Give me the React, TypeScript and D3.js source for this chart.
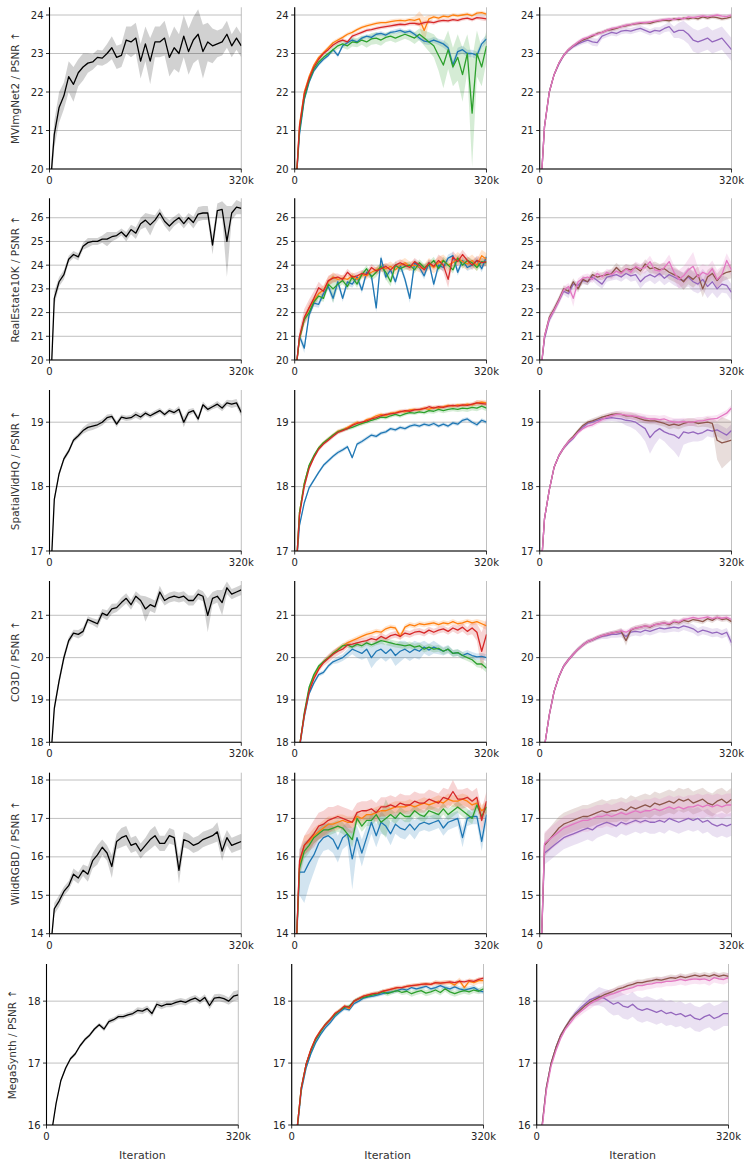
import React from "react";
import * as d3 from "d3";

// iteration (thousands)
const ITER = [3,8,16,24,32,40,48,56,64,72,80,88,96,104,112,120,128,136,144,152,160,168,176,184,192,200,208,216,224,232,240,248,256,264,272,280,288,296,304,312,320];
const X_TICKS = [0, 320];
const X_TICK_LABELS = ["0", "320k"];

// ---------- MVImgNet2 ----------
const mvK = [19.9,20.9,21.6,21.9,22.4,22.2,22.5,22.65,22.75,22.78,22.9,22.88,23.0,23.15,22.9,22.95,23.35,23.3,23.4,22.8,23.25,22.8,23.3,23.3,23.4,22.9,23.15,23.0,23.45,23.05,23.35,23.5,23.05,23.3,23.2,23.25,23.3,23.5,23.2,23.4,23.2];
const mvKsd = [0.3,0.35,0.4,0.35,0.4,0.45,0.35,0.35,0.25,0.2,0.2,0.2,0.25,0.3,0.3,0.3,0.35,0.4,0.4,0.45,0.45,0.6,0.4,0.4,0.45,0.5,0.55,0.5,0.55,0.6,0.6,0.65,0.7,0.5,0.45,0.35,0.35,0.35,0.3,0.3,0.3];
const mvBlue = [19.8,20.9,21.8,22.25,22.55,22.72,22.85,22.95,23.1,22.95,23.2,23.28,23.35,23.3,23.4,23.45,23.42,23.5,23.52,23.48,23.55,23.57,23.6,23.55,23.58,23.5,23.4,23.32,23.3,23.35,23.3,23.25,23.15,22.7,23.05,23.1,23.0,23.0,22.95,23.25,23.38];
const mvBlueSd = [0.1,0.08,0.06,0.05,0.05,0.05,0.05,0.05,0.05,0.06,0.05,0.05,0.05,0.06,0.05,0.05,0.06,0.05,0.06,0.05,0.05,0.06,0.06,0.05,0.06,0.06,0.07,0.08,0.08,0.08,0.08,0.1,0.1,0.12,0.1,0.1,0.1,0.1,0.1,0.1,0.1];
const mvOrange = [19.8,21.15,22.0,22.4,22.7,22.9,23.02,23.15,23.28,23.35,23.42,23.5,23.55,23.62,23.68,23.72,23.75,23.78,23.8,23.8,23.83,23.85,23.86,23.85,23.88,23.86,23.9,23.6,23.9,23.95,23.92,23.97,23.95,24.0,23.98,24.0,24.02,23.98,24.05,24.06,24.02];
const mvOrangeSd = [0.1,0.08,0.06,0.05,0.05,0.05,0.05,0.05,0.05,0.05,0.05,0.05,0.05,0.05,0.05,0.05,0.05,0.05,0.05,0.05,0.05,0.05,0.05,0.05,0.05,0.1,0.2,0.35,0.1,0.05,0.05,0.05,0.05,0.05,0.05,0.05,0.05,0.05,0.05,0.05,0.05];
const mvGreen = [19.8,21.0,21.85,22.3,22.6,22.78,22.9,23.0,23.1,23.2,23.25,23.2,23.3,23.28,23.35,23.3,23.38,23.4,23.35,23.42,23.45,23.4,23.45,23.5,23.45,23.4,23.5,23.4,23.3,23.2,22.95,22.7,23.1,22.65,22.9,22.45,23.0,21.45,23.0,22.65,23.2];
const mvGreenSd = [0.1,0.08,0.06,0.05,0.05,0.06,0.06,0.06,0.08,0.08,0.1,0.1,0.12,0.12,0.12,0.15,0.15,0.15,0.15,0.12,0.12,0.12,0.12,0.12,0.12,0.15,0.15,0.2,0.25,0.3,0.4,0.6,0.5,0.5,0.6,0.7,0.5,1.4,0.6,0.5,0.4];
const mvRed = [19.8,21.1,21.95,22.35,22.65,22.85,23.0,23.1,23.22,23.3,23.35,23.3,23.45,23.5,23.55,23.6,23.62,23.65,23.68,23.7,23.72,23.74,23.76,23.75,23.78,23.78,23.76,23.8,23.82,23.8,23.84,23.86,23.85,23.88,23.86,23.9,23.92,23.88,23.93,23.92,23.9];
const mvRedSd = [0.1,0.08,0.06,0.05,0.05,0.05,0.05,0.05,0.05,0.05,0.05,0.05,0.05,0.05,0.05,0.05,0.05,0.05,0.05,0.05,0.05,0.05,0.05,0.05,0.05,0.05,0.05,0.05,0.05,0.05,0.05,0.05,0.05,0.05,0.05,0.05,0.05,0.05,0.05,0.06,0.06];
const mvPurple = [19.8,21.1,22.0,22.45,22.72,22.95,23.08,23.18,23.25,23.3,23.35,23.3,23.28,23.45,23.5,23.55,23.52,23.58,23.6,23.58,23.62,23.65,23.6,23.55,23.6,23.58,23.65,23.7,23.55,23.6,23.6,23.5,23.35,23.3,23.35,23.4,23.3,23.35,23.4,23.25,23.1];
const mvPurpleSd = [0.08,0.06,0.05,0.05,0.05,0.05,0.05,0.05,0.06,0.06,0.08,0.1,0.1,0.08,0.08,0.08,0.08,0.08,0.08,0.08,0.08,0.08,0.08,0.08,0.08,0.1,0.1,0.12,0.15,0.2,0.25,0.25,0.3,0.3,0.3,0.3,0.3,0.3,0.3,0.3,0.3];
const mvBrown = [19.8,21.1,22.0,22.45,22.75,22.95,23.1,23.2,23.28,23.35,23.4,23.45,23.52,23.55,23.6,23.62,23.65,23.7,23.72,23.75,23.77,23.78,23.8,23.78,23.82,23.85,23.87,23.85,23.9,23.88,23.92,23.9,23.93,23.9,23.95,23.92,23.95,23.93,23.9,23.92,23.95];
const mvBrownSd = [0.08,0.06,0.05,0.05,0.05,0.05,0.05,0.05,0.05,0.05,0.05,0.05,0.05,0.05,0.05,0.05,0.05,0.05,0.05,0.05,0.05,0.05,0.05,0.05,0.05,0.05,0.05,0.05,0.05,0.05,0.05,0.05,0.05,0.05,0.05,0.05,0.05,0.05,0.05,0.05,0.05];
const mvPink = [19.8,21.1,22.0,22.45,22.75,22.95,23.1,23.2,23.3,23.38,23.42,23.48,23.5,23.55,23.6,23.65,23.67,23.7,23.74,23.75,23.78,23.8,23.8,23.82,23.84,23.86,23.88,23.9,23.88,23.92,23.9,23.95,23.93,23.96,23.98,23.96,23.98,24.0,23.97,23.96,24.0];
const mvPinkSd = [0.08,0.06,0.05,0.05,0.05,0.05,0.05,0.05,0.05,0.05,0.05,0.05,0.05,0.05,0.05,0.05,0.05,0.05,0.05,0.05,0.05,0.05,0.05,0.05,0.05,0.05,0.05,0.05,0.05,0.05,0.05,0.05,0.05,0.05,0.05,0.05,0.05,0.05,0.05,0.05,0.05];

// ---------- RealEstate10K ----------
const reK = [19.5,22.6,23.3,23.6,24.25,24.45,24.35,24.8,24.95,25.0,25.0,25.1,25.1,25.2,25.25,25.4,25.2,25.5,25.35,25.75,25.9,25.7,25.9,26.2,25.85,25.65,25.85,26.0,25.75,26.0,25.8,26.15,26.2,26.2,24.85,26.3,26.35,25.0,26.2,26.45,26.4];
const reKsd = [0.3,0.3,0.2,0.2,0.15,0.15,0.15,0.15,0.2,0.15,0.15,0.15,0.3,0.2,0.15,0.15,0.2,0.2,0.25,0.25,0.3,0.45,0.2,0.2,0.2,0.25,0.2,0.2,0.2,0.2,0.25,0.3,0.3,0.3,0.4,0.3,0.35,1.5,0.3,0.3,0.25];
const reBlue = [19.8,21.0,20.5,21.9,22.4,22.35,22.8,23.1,22.6,23.3,22.6,23.3,23.2,23.5,22.95,23.7,23.55,22.2,24.3,23.5,23.8,23.3,24.0,23.4,22.6,24.1,23.9,23.55,24.1,23.2,24.0,23.9,24.3,24.4,23.7,24.2,23.9,24.0,24.2,23.85,24.35];
const reBlueSd = [0.1,0.15,0.2,0.15,0.15,0.15,0.15,0.15,0.2,0.15,0.15,0.15,0.15,0.15,0.15,0.15,0.15,0.2,0.15,0.15,0.15,0.15,0.15,0.15,0.2,0.15,0.15,0.15,0.15,0.15,0.15,0.15,0.15,0.15,0.15,0.15,0.15,0.15,0.15,0.15,0.15];
const reOrange = [19.8,20.9,21.7,22.2,22.5,22.8,22.95,23.3,23.5,23.4,23.45,23.4,23.55,23.4,23.6,23.55,23.7,23.8,23.9,23.85,23.95,23.8,24.0,24.1,23.95,24.0,23.9,23.85,24.05,23.9,24.1,24.2,24.0,24.1,24.3,24.15,24.05,24.2,24.0,24.4,24.25];
const reOrangeSd = [0.1,0.2,0.2,0.2,0.2,0.2,0.2,0.2,0.2,0.15,0.15,0.15,0.15,0.15,0.15,0.15,0.15,0.15,0.15,0.2,0.2,0.2,0.2,0.2,0.2,0.2,0.2,0.2,0.25,0.25,0.25,0.25,0.25,0.25,0.25,0.25,0.25,0.25,0.25,0.25,0.25];
const reGreen = [19.8,20.9,21.7,22.0,22.45,22.7,22.6,23.2,23.0,23.2,23.35,23.1,23.5,23.2,23.6,23.85,23.5,23.7,23.95,23.7,23.3,24.0,23.85,23.95,24.0,23.8,24.1,23.9,24.0,24.2,23.85,24.2,24.0,23.8,24.3,24.0,24.2,24.1,23.9,24.15,24.1];
const reGreenSd = [0.1,0.15,0.15,0.15,0.15,0.15,0.15,0.15,0.6,0.15,0.15,0.15,0.15,0.15,0.15,0.15,0.15,0.2,0.15,0.3,0.2,0.15,0.15,0.15,0.15,0.15,0.15,0.15,0.15,0.15,0.15,0.15,0.15,0.15,0.15,0.15,0.15,0.15,0.15,0.15,0.15];
const reRed = [19.8,21.0,21.8,22.2,22.6,23.05,22.9,23.35,23.45,23.5,23.4,23.7,23.5,23.55,23.65,23.6,23.9,23.75,23.85,23.95,23.8,24.0,24.1,24.0,23.9,24.15,24.0,23.8,24.1,23.95,24.2,24.0,23.4,24.35,24.15,24.45,24.2,24.0,24.2,24.1,24.15];
const reRedSd = [0.1,0.3,0.35,0.35,0.3,0.25,0.2,0.2,0.2,0.15,0.15,0.15,0.15,0.15,0.15,0.15,0.15,0.15,0.15,0.15,0.15,0.15,0.15,0.15,0.15,0.15,0.15,0.15,0.15,0.15,0.25,0.3,0.35,0.25,0.2,0.2,0.2,0.2,0.2,0.2,0.2];
const rePurple = [19.8,20.9,21.7,22.1,22.5,22.9,22.8,23.2,23.15,23.35,23.3,23.5,23.35,23.2,23.5,23.55,23.6,23.5,23.65,23.55,23.6,23.3,23.5,23.6,23.5,23.65,23.45,23.6,23.5,23.4,23.35,23.5,23.3,23.2,23.4,23.1,23.3,23.0,23.2,23.15,22.85];
const rePurpleSd = [0.1,0.15,0.15,0.15,0.15,0.15,0.2,0.15,0.15,0.15,0.15,0.15,0.2,0.2,0.2,0.2,0.2,0.2,0.2,0.25,0.25,0.3,0.25,0.25,0.3,0.3,0.3,0.3,0.35,0.35,0.35,0.4,0.4,0.4,0.45,0.5,0.45,0.4,0.35,0.35,0.35];
const reBrown = [19.8,21.0,21.8,22.15,22.55,23.0,22.9,23.3,23.0,23.4,23.3,23.6,23.5,23.55,23.6,23.65,23.9,23.7,23.85,23.8,23.9,23.75,24.05,23.85,23.9,23.8,23.85,23.7,23.6,23.5,23.3,23.55,23.4,23.6,23.0,23.5,23.65,23.35,23.6,23.7,23.75];
const reBrownSd = [0.1,0.15,0.15,0.15,0.15,0.15,0.15,0.15,0.15,0.15,0.15,0.15,0.15,0.15,0.15,0.2,0.2,0.2,0.2,0.2,0.2,0.2,0.2,0.2,0.25,0.25,0.25,0.3,0.3,0.3,0.35,0.35,0.35,0.35,0.35,0.3,0.3,0.3,0.3,0.3,0.3];
const rePink = [19.8,21.0,21.75,22.1,22.5,22.95,23.1,22.6,23.3,23.45,23.5,23.4,23.65,23.5,23.7,23.6,23.75,23.65,23.85,23.7,23.95,23.85,23.9,24.15,23.8,23.75,23.9,24.15,23.7,23.4,23.55,23.8,23.95,23.5,23.7,23.6,23.85,23.4,23.6,24.2,23.8];
const rePinkSd = [0.1,0.15,0.15,0.15,0.15,0.15,0.15,0.35,0.15,0.15,0.15,0.15,0.15,0.15,0.15,0.2,0.2,0.2,0.2,0.2,0.2,0.2,0.25,0.25,0.25,0.25,0.25,0.3,0.3,0.4,0.4,0.45,0.6,0.4,0.35,0.35,0.35,0.4,0.35,0.3,0.3];

// ---------- SpatialVidHQ ----------
const svK = [16.8,17.8,18.2,18.43,18.55,18.72,18.79,18.87,18.92,18.94,18.96,19.0,19.07,19.09,18.97,19.08,19.06,19.07,19.12,19.08,19.14,19.1,19.14,19.18,19.12,19.18,19.15,19.2,19.0,19.15,19.18,19.05,19.27,19.2,19.24,19.28,19.22,19.3,19.28,19.3,19.15];
const svKsd = [0.05,0.05,0.04,0.04,0.04,0.04,0.04,0.05,0.06,0.06,0.05,0.05,0.05,0.04,0.05,0.04,0.04,0.04,0.05,0.05,0.04,0.04,0.04,0.04,0.04,0.04,0.04,0.05,0.08,0.05,0.04,0.05,0.05,0.04,0.04,0.05,0.05,0.05,0.06,0.06,0.06];
const svBlue = [16.8,17.4,17.75,17.98,18.1,18.22,18.33,18.4,18.47,18.53,18.57,18.62,18.45,18.66,18.7,18.75,18.8,18.78,18.83,18.85,18.9,18.88,18.92,18.9,18.94,18.96,18.94,18.97,18.95,18.98,18.94,18.97,18.94,18.99,18.97,19.03,19.05,19.0,18.96,19.03,19.0];
const svBlueSd = [0.04,0.04,0.03,0.03,0.03,0.03,0.03,0.03,0.03,0.03,0.03,0.03,0.03,0.03,0.03,0.03,0.03,0.03,0.03,0.03,0.03,0.03,0.03,0.03,0.03,0.03,0.03,0.03,0.03,0.03,0.03,0.03,0.03,0.03,0.03,0.03,0.03,0.03,0.03,0.03,0.03];
const svOrange = [16.8,17.6,18.05,18.32,18.47,18.6,18.68,18.74,18.8,18.86,18.88,18.92,18.96,19.0,18.98,19.04,19.06,19.1,19.12,19.1,19.14,19.15,19.17,19.16,19.19,19.2,19.19,19.22,19.2,19.23,19.22,19.24,19.26,19.25,19.27,19.26,19.28,19.27,19.3,19.31,19.3];
const svOrangeSd = [0.04,0.04,0.03,0.03,0.03,0.03,0.03,0.03,0.03,0.03,0.03,0.03,0.03,0.03,0.03,0.03,0.03,0.03,0.03,0.03,0.03,0.03,0.03,0.03,0.03,0.03,0.03,0.03,0.03,0.03,0.03,0.03,0.03,0.03,0.03,0.03,0.03,0.03,0.04,0.04,0.04];
const svGreen = [16.8,17.6,18.05,18.33,18.48,18.6,18.68,18.74,18.8,18.85,18.88,18.9,18.92,18.95,18.98,19.0,19.03,19.05,19.08,19.07,19.1,19.12,19.1,19.13,19.15,19.14,19.16,19.15,19.18,19.17,19.2,19.18,19.2,19.21,19.2,19.22,19.21,19.23,19.22,19.25,19.22];
const svGreenSd = [0.04,0.04,0.03,0.03,0.03,0.03,0.03,0.03,0.03,0.03,0.03,0.03,0.03,0.03,0.03,0.03,0.03,0.03,0.03,0.03,0.03,0.03,0.03,0.03,0.03,0.03,0.03,0.03,0.04,0.04,0.04,0.04,0.04,0.04,0.04,0.05,0.05,0.05,0.05,0.05,0.05];
const svRed = [16.8,17.55,18.0,18.28,18.45,18.58,18.66,18.72,18.78,18.84,18.87,18.9,18.95,18.98,19.0,19.02,19.05,19.07,19.1,19.12,19.13,19.14,19.16,19.18,19.17,19.19,19.2,19.21,19.24,19.22,19.24,19.23,19.25,19.26,19.25,19.27,19.26,19.28,19.3,19.29,19.28];
const svRedSd = [0.04,0.04,0.03,0.03,0.03,0.03,0.03,0.03,0.03,0.03,0.03,0.03,0.03,0.03,0.03,0.03,0.03,0.03,0.03,0.03,0.03,0.03,0.03,0.03,0.03,0.03,0.03,0.03,0.03,0.03,0.03,0.03,0.03,0.03,0.03,0.03,0.03,0.03,0.04,0.04,0.04];
const svPurple = [16.8,17.5,17.95,18.3,18.48,18.6,18.68,18.75,18.85,18.92,18.98,19.0,19.03,19.05,19.06,19.07,19.06,19.05,19.03,19.02,19.0,18.95,18.9,18.76,18.85,18.9,18.85,18.82,18.8,18.75,18.85,18.83,18.85,18.82,18.84,18.88,18.86,18.88,18.84,18.8,18.87];
const svPurpleSd = [0.04,0.04,0.03,0.03,0.03,0.03,0.03,0.03,0.03,0.03,0.03,0.04,0.04,0.04,0.05,0.05,0.05,0.06,0.08,0.1,0.12,0.15,0.2,0.25,0.2,0.15,0.15,0.2,0.25,0.3,0.2,0.15,0.15,0.12,0.12,0.1,0.1,0.1,0.1,0.1,0.1];
const svBrown = [16.8,17.5,17.95,18.3,18.48,18.6,18.7,18.78,18.87,18.95,19.0,19.02,19.05,19.08,19.1,19.12,19.13,19.12,19.1,19.1,19.08,19.05,19.03,19.02,19.02,19.0,18.98,18.95,18.97,18.95,18.98,19.0,19.0,18.98,18.99,19.0,18.98,18.72,18.68,18.7,18.72];
const svBrownSd = [0.04,0.04,0.03,0.03,0.03,0.03,0.03,0.03,0.03,0.03,0.03,0.04,0.04,0.04,0.04,0.04,0.04,0.04,0.05,0.05,0.05,0.05,0.05,0.05,0.05,0.05,0.05,0.06,0.06,0.06,0.06,0.06,0.06,0.06,0.06,0.08,0.08,0.3,0.4,0.35,0.3];
const svPink = [16.8,17.5,17.95,18.3,18.48,18.6,18.7,18.76,18.84,18.9,18.94,18.96,19.0,19.04,19.08,19.1,19.12,19.12,19.11,19.1,19.09,19.08,19.06,19.05,19.05,19.04,19.05,19.02,19.0,19.0,19.01,19.0,19.0,19.02,19.02,19.04,19.05,19.06,19.1,19.14,19.22];
const svPinkSd = [0.04,0.04,0.03,0.03,0.03,0.03,0.03,0.03,0.03,0.03,0.03,0.04,0.04,0.04,0.05,0.05,0.05,0.06,0.06,0.06,0.06,0.06,0.06,0.06,0.06,0.06,0.06,0.06,0.06,0.06,0.06,0.06,0.06,0.06,0.06,0.06,0.05,0.05,0.05,0.05,0.05];

// ---------- CO3D ----------
const coK = [17.8,18.8,19.45,20.0,20.4,20.58,20.55,20.62,20.9,20.85,20.8,21.05,21.0,21.15,21.18,21.3,21.4,21.25,21.45,21.35,21.15,21.25,21.2,21.55,21.35,21.42,21.45,21.42,21.45,21.35,21.35,21.5,21.45,21.0,21.4,21.45,21.3,21.65,21.5,21.55,21.6];
const coKsd = [0.1,0.1,0.1,0.1,0.08,0.08,0.1,0.1,0.08,0.08,0.1,0.1,0.12,0.12,0.1,0.12,0.12,0.12,0.12,0.12,0.3,0.15,0.15,0.15,0.12,0.12,0.12,0.12,0.12,0.12,0.12,0.12,0.12,0.4,0.15,0.15,0.3,0.15,0.12,0.12,0.12];
const coBlue = [16.5,17.85,18.6,19.15,19.4,19.6,19.65,19.8,19.9,19.95,20.0,20.1,20.2,20.15,20.1,20.2,20.0,20.15,20.2,20.1,20.2,20.05,20.15,20.2,20.12,20.2,20.15,20.25,20.18,20.25,20.2,20.15,20.2,20.1,20.12,20.05,20.1,20.05,20.02,20.03,20.0];
const coBlueSd = [0.05,0.05,0.05,0.05,0.05,0.05,0.05,0.05,0.05,0.08,0.08,0.1,0.12,0.15,0.15,0.2,0.25,0.25,0.2,0.2,0.2,0.25,0.25,0.2,0.2,0.2,0.2,0.15,0.15,0.15,0.12,0.1,0.1,0.08,0.08,0.08,0.08,0.08,0.08,0.08,0.08];
const coOrange = [16.5,17.9,18.65,19.25,19.55,19.75,19.9,20.0,20.1,20.2,20.28,20.35,20.4,20.45,20.5,20.55,20.58,20.62,20.6,20.68,20.72,20.7,20.5,20.72,20.78,20.75,20.8,20.78,20.8,20.82,20.78,20.82,20.8,20.85,20.8,20.82,20.86,20.82,20.85,20.8,20.75];
const coOrangeSd = [0.05,0.05,0.05,0.05,0.05,0.05,0.05,0.05,0.05,0.06,0.06,0.06,0.06,0.06,0.06,0.06,0.06,0.06,0.06,0.06,0.06,0.06,0.08,0.06,0.06,0.06,0.06,0.06,0.06,0.06,0.06,0.06,0.06,0.06,0.06,0.06,0.06,0.06,0.06,0.08,0.1];
const coGreen = [16.5,17.9,18.7,19.3,19.6,19.8,19.9,20.0,20.1,20.18,20.28,20.3,20.25,20.32,20.28,20.35,20.3,20.35,20.4,20.38,20.35,20.32,20.3,20.28,20.3,20.25,20.28,20.2,20.25,20.2,20.22,20.15,20.2,20.1,20.12,20.05,20.0,19.95,19.85,19.85,19.75];
const coGreenSd = [0.05,0.05,0.05,0.05,0.05,0.05,0.05,0.05,0.06,0.06,0.06,0.06,0.06,0.06,0.06,0.06,0.06,0.06,0.08,0.08,0.08,0.08,0.08,0.08,0.08,0.08,0.08,0.08,0.08,0.08,0.08,0.08,0.08,0.08,0.08,0.08,0.08,0.08,0.08,0.1,0.1];
const coRed = [16.5,17.9,18.65,19.2,19.5,19.72,19.88,19.98,20.08,20.15,20.2,20.3,20.32,20.35,20.38,20.4,20.45,20.42,20.5,20.45,20.52,20.55,20.5,20.58,20.55,20.6,20.62,20.58,20.65,20.6,20.65,20.68,20.62,20.7,20.65,20.72,20.62,20.7,20.6,20.15,20.55];
const coRedSd = [0.05,0.05,0.05,0.05,0.05,0.06,0.08,0.1,0.1,0.1,0.08,0.08,0.08,0.08,0.08,0.08,0.08,0.08,0.08,0.08,0.08,0.08,0.08,0.08,0.08,0.08,0.08,0.08,0.08,0.08,0.08,0.08,0.08,0.08,0.1,0.1,0.1,0.15,0.2,0.45,0.4];
const coPurple = [16.5,17.9,18.65,19.2,19.55,19.8,19.95,20.08,20.2,20.3,20.38,20.42,20.46,20.5,20.52,20.55,20.55,20.58,20.5,20.6,20.62,20.6,20.65,20.62,20.66,20.7,20.68,20.7,20.72,20.7,20.75,20.72,20.68,20.6,20.65,20.62,20.58,20.6,20.55,20.6,20.35];
const coPurpleSd = [0.05,0.05,0.05,0.05,0.05,0.05,0.05,0.05,0.05,0.05,0.05,0.05,0.05,0.06,0.08,0.08,0.08,0.1,0.1,0.1,0.1,0.1,0.1,0.1,0.1,0.1,0.1,0.1,0.1,0.1,0.1,0.1,0.1,0.1,0.1,0.1,0.1,0.1,0.1,0.1,0.12];
const coBrown = [16.5,17.9,18.65,19.2,19.55,19.8,19.95,20.08,20.2,20.3,20.38,20.42,20.48,20.52,20.55,20.58,20.6,20.62,20.4,20.65,20.7,20.72,20.75,20.72,20.78,20.8,20.82,20.78,20.85,20.82,20.88,20.85,20.9,20.88,20.85,20.92,20.88,20.95,20.9,20.92,20.85];
const coBrownSd = [0.05,0.05,0.05,0.05,0.05,0.05,0.05,0.05,0.05,0.05,0.05,0.05,0.05,0.05,0.05,0.05,0.06,0.08,0.12,0.06,0.06,0.06,0.06,0.06,0.06,0.06,0.06,0.06,0.06,0.06,0.06,0.06,0.06,0.06,0.06,0.06,0.06,0.06,0.06,0.06,0.06];
const coPink = [16.5,17.9,18.65,19.2,19.55,19.8,19.95,20.08,20.2,20.3,20.38,20.42,20.48,20.52,20.55,20.58,20.6,20.63,20.6,20.66,20.7,20.72,20.75,20.74,20.78,20.8,20.82,20.8,20.86,20.84,20.9,20.92,20.95,20.92,20.94,20.96,20.92,20.95,20.93,20.95,20.9];
const coPinkSd = [0.05,0.05,0.05,0.05,0.05,0.05,0.05,0.05,0.05,0.05,0.05,0.05,0.05,0.05,0.05,0.05,0.05,0.05,0.06,0.06,0.06,0.06,0.06,0.06,0.06,0.06,0.06,0.06,0.06,0.06,0.06,0.06,0.06,0.06,0.06,0.06,0.06,0.06,0.06,0.06,0.06];

// ---------- WildRGBD ----------
const wrK = [13.8,14.65,14.85,15.1,15.25,15.55,15.45,15.65,15.55,15.9,16.05,16.25,16.1,15.75,16.4,16.5,16.55,16.3,16.35,16.15,16.3,16.45,16.55,16.35,16.35,16.55,16.5,15.65,16.45,16.4,16.3,16.35,16.45,16.5,16.55,16.65,16.15,16.5,16.3,16.35,16.4];
const wrKsd = [0.1,0.15,0.15,0.12,0.12,0.15,0.15,0.15,0.2,0.2,0.25,0.2,0.2,0.3,0.2,0.25,0.25,0.2,0.2,0.2,0.2,0.25,0.25,0.2,0.2,0.2,0.2,0.35,0.2,0.2,0.2,0.2,0.2,0.2,0.2,0.25,0.25,0.2,0.2,0.2,0.2];
const wrBlue = [13.8,15.6,15.6,15.85,16.05,16.35,16.5,16.55,16.45,16.2,16.5,16.6,15.95,16.5,16.1,16.5,16.9,16.55,16.9,16.8,16.6,16.85,16.75,16.7,16.85,16.7,16.85,16.9,16.85,16.9,16.95,16.75,16.9,16.95,17.0,16.5,17.0,17.05,17.05,16.4,17.1];
const wrBlueSd = [0.5,0.6,0.8,0.6,0.45,0.4,0.35,0.35,0.35,0.35,0.3,0.3,0.8,0.3,0.35,0.3,0.3,0.3,0.3,0.25,0.3,0.25,0.25,0.25,0.25,0.25,0.2,0.2,0.2,0.2,0.2,0.2,0.2,0.2,0.2,0.25,0.2,0.2,0.2,0.25,0.25];
const wrOrange = [13.8,15.8,16.3,16.4,16.55,16.65,16.75,16.85,16.85,16.9,16.95,16.9,16.9,17.05,17.0,17.1,17.1,17.15,17.2,17.2,17.25,17.3,17.3,17.3,17.35,17.3,17.35,17.4,17.35,17.4,17.45,17.4,17.5,17.45,17.45,17.5,17.45,17.35,17.4,17.2,17.3];
const wrOrangeSd = [0.3,0.3,0.25,0.2,0.2,0.2,0.2,0.2,0.2,0.2,0.15,0.15,0.15,0.15,0.15,0.15,0.15,0.15,0.15,0.15,0.15,0.15,0.15,0.15,0.15,0.15,0.15,0.15,0.15,0.15,0.15,0.15,0.15,0.15,0.15,0.15,0.15,0.15,0.15,0.15,0.15];
const wrGreen = [13.8,15.7,16.15,16.3,16.5,16.6,16.7,16.7,16.75,16.8,16.75,16.6,16.45,17.0,16.8,16.95,16.95,17.1,16.9,17.0,17.1,17.0,17.15,17.05,17.05,17.2,17.1,17.05,17.2,17.15,17.1,17.25,17.1,17.2,17.3,17.2,17.1,17.0,17.35,17.05,17.3];
const wrGreenSd = [0.3,0.25,0.2,0.2,0.15,0.15,0.15,0.15,0.15,0.15,0.15,0.15,0.2,0.15,0.15,0.15,0.15,0.15,0.25,0.5,0.15,0.15,0.15,0.15,0.15,0.15,0.15,0.15,0.15,0.15,0.15,0.15,0.15,0.15,0.15,0.15,0.15,0.15,0.15,0.15,0.15];
const wrRed = [13.8,15.9,16.3,16.45,16.6,16.8,16.85,16.95,17.0,17.05,17.0,16.95,16.9,17.15,17.2,17.2,17.25,17.15,17.3,17.3,17.35,17.3,17.4,17.35,17.35,17.45,17.4,17.4,17.5,17.45,17.4,17.55,17.5,17.7,17.5,17.5,17.55,17.45,17.55,16.95,17.45];
const wrRedSd = [0.3,0.3,0.25,0.3,0.35,0.35,0.35,0.35,0.3,0.3,0.3,0.3,0.3,0.25,0.25,0.25,0.25,0.25,0.25,0.25,0.25,0.25,0.25,0.25,0.25,0.25,0.25,0.25,0.25,0.25,0.25,0.25,0.25,0.3,0.25,0.25,0.25,0.25,0.25,0.3,0.25];
const wrPurple = [13.8,16.1,16.2,16.3,16.4,16.5,16.55,16.6,16.65,16.7,16.75,16.7,16.8,16.85,16.9,16.85,16.8,16.9,16.85,16.9,16.95,16.9,16.95,16.9,16.9,16.95,16.9,17.0,16.95,16.9,16.95,17.0,16.95,17.0,16.9,16.95,16.85,16.8,16.85,16.8,16.85];
const wrPurpleSd = [0.3,0.3,0.3,0.3,0.3,0.3,0.3,0.3,0.3,0.3,0.3,0.3,0.3,0.3,0.3,0.3,0.3,0.3,0.3,0.3,0.3,0.3,0.3,0.3,0.3,0.3,0.3,0.3,0.3,0.3,0.3,0.3,0.3,0.3,0.3,0.3,0.3,0.3,0.3,0.3,0.3];
const wrBrown = [13.8,16.3,16.45,16.6,16.75,16.85,16.9,16.95,17.0,17.05,17.05,17.1,17.15,17.2,17.15,17.2,17.2,17.25,17.2,17.3,17.25,17.3,17.35,17.3,17.4,17.35,17.4,17.45,17.4,17.5,17.45,17.5,17.4,17.45,17.5,17.4,17.35,17.45,17.5,17.4,17.5];
const wrBrownSd = [0.3,0.3,0.3,0.3,0.3,0.3,0.3,0.3,0.3,0.3,0.3,0.3,0.3,0.3,0.3,0.3,0.3,0.3,0.3,0.3,0.3,0.3,0.3,0.3,0.3,0.3,0.3,0.3,0.3,0.3,0.3,0.3,0.3,0.3,0.3,0.3,0.3,0.3,0.3,0.3,0.3];
const wrPink = [13.8,16.35,16.45,16.55,16.65,16.75,16.8,16.85,16.9,16.95,16.95,17.0,17.05,17.05,17.1,17.05,17.1,17.15,17.1,17.15,17.2,17.15,17.2,17.2,17.25,17.2,17.25,17.3,17.25,17.3,17.25,17.3,17.3,17.35,17.3,17.35,17.3,17.35,17.3,17.35,17.35];
const wrPinkSd = [0.3,0.3,0.3,0.3,0.3,0.3,0.3,0.3,0.3,0.3,0.3,0.3,0.3,0.3,0.3,0.3,0.3,0.3,0.3,0.3,0.3,0.3,0.3,0.3,0.3,0.3,0.3,0.3,0.3,0.3,0.3,0.3,0.3,0.3,0.3,0.3,0.3,0.3,0.3,0.3,0.3];

// ---------- MegaSynth ----------
const msK = [15.0,15.85,16.35,16.72,16.92,17.07,17.15,17.28,17.38,17.45,17.55,17.62,17.55,17.67,17.7,17.75,17.75,17.78,17.8,17.85,17.84,17.88,17.8,17.95,17.92,17.95,17.95,17.98,18.0,17.98,18.02,18.05,18.0,18.06,17.93,18.05,18.06,18.04,18.0,18.08,18.1];
const msKsd = [0.03,0.03,0.03,0.03,0.03,0.03,0.03,0.03,0.03,0.03,0.03,0.03,0.04,0.04,0.04,0.04,0.04,0.04,0.04,0.05,0.05,0.05,0.05,0.05,0.05,0.05,0.05,0.05,0.05,0.05,0.05,0.05,0.05,0.05,0.06,0.06,0.06,0.06,0.06,0.08,0.08];
const msBlue = [15.0,15.8,16.55,16.92,17.15,17.33,17.46,17.57,17.65,17.75,17.82,17.88,17.86,17.96,18.0,18.05,18.07,18.08,18.1,18.12,18.14,18.15,18.17,18.2,18.18,18.22,18.2,18.22,18.24,18.2,18.22,18.25,18.22,18.2,18.23,18.2,18.18,18.2,18.22,18.17,18.15];
const msBlueSd = [0.03,0.03,0.03,0.03,0.03,0.03,0.03,0.03,0.03,0.03,0.03,0.03,0.03,0.03,0.03,0.03,0.03,0.03,0.03,0.03,0.03,0.03,0.03,0.03,0.03,0.03,0.03,0.03,0.03,0.03,0.04,0.04,0.04,0.04,0.04,0.04,0.04,0.04,0.04,0.04,0.04];
const msOrange = [15.0,15.85,16.6,16.98,17.22,17.4,17.52,17.62,17.7,17.8,17.85,17.92,17.88,18.0,18.04,18.08,18.1,18.12,18.13,18.16,18.18,18.2,18.22,18.22,18.24,18.25,18.26,18.27,18.28,18.27,18.3,18.29,18.3,18.3,18.26,18.33,18.22,18.32,18.3,18.33,18.33];
const msOrangeSd = [0.03,0.03,0.03,0.03,0.03,0.03,0.03,0.03,0.03,0.03,0.03,0.03,0.03,0.03,0.03,0.03,0.03,0.03,0.03,0.03,0.03,0.03,0.03,0.03,0.03,0.03,0.03,0.03,0.03,0.03,0.04,0.04,0.04,0.04,0.05,0.05,0.05,0.05,0.05,0.05,0.05];
const msGreen = [15.0,15.85,16.6,16.98,17.2,17.38,17.5,17.62,17.7,17.78,17.85,17.9,17.92,18.0,18.04,18.06,18.08,18.1,18.12,18.15,18.12,18.15,18.17,18.14,18.16,18.12,18.15,18.17,18.13,18.15,18.18,18.14,18.2,18.15,18.12,18.15,18.17,18.15,18.18,18.16,18.2];
const msGreenSd = [0.03,0.03,0.03,0.03,0.03,0.03,0.03,0.03,0.03,0.03,0.03,0.03,0.03,0.03,0.03,0.03,0.03,0.03,0.04,0.04,0.04,0.04,0.04,0.04,0.05,0.05,0.05,0.05,0.05,0.05,0.05,0.05,0.05,0.05,0.05,0.05,0.05,0.05,0.05,0.05,0.05];
const msRed = [15.0,15.85,16.6,16.98,17.22,17.4,17.52,17.62,17.7,17.8,17.85,17.92,17.9,18.0,18.04,18.08,18.1,18.12,18.13,18.16,18.18,18.2,18.22,18.22,18.24,18.25,18.26,18.27,18.28,18.27,18.3,18.29,18.3,18.31,18.3,18.32,18.31,18.33,18.32,18.35,18.37];
const msRedSd = [0.03,0.03,0.03,0.03,0.03,0.03,0.03,0.03,0.03,0.03,0.03,0.03,0.03,0.03,0.03,0.03,0.03,0.03,0.03,0.03,0.03,0.03,0.03,0.03,0.03,0.03,0.03,0.03,0.03,0.03,0.03,0.03,0.03,0.03,0.03,0.03,0.03,0.03,0.03,0.03,0.03];
const msPurple = [15.0,15.9,16.6,17.0,17.25,17.45,17.58,17.7,17.8,17.88,17.95,18.02,18.05,18.08,18.05,18.0,17.95,17.98,17.92,17.9,17.95,17.88,17.85,17.88,17.85,17.82,17.85,17.8,17.82,17.78,17.8,17.75,17.78,17.72,17.7,17.75,17.78,17.72,17.75,17.8,17.8];
const msPurpleSd = [0.03,0.03,0.03,0.03,0.03,0.03,0.03,0.04,0.05,0.06,0.08,0.1,0.12,0.15,0.15,0.18,0.18,0.2,0.2,0.2,0.2,0.2,0.2,0.2,0.2,0.2,0.2,0.2,0.2,0.2,0.2,0.2,0.2,0.2,0.2,0.2,0.2,0.2,0.2,0.2,0.2];
const msBrown = [15.0,15.9,16.6,17.0,17.25,17.45,17.58,17.7,17.78,17.85,17.92,17.98,18.02,18.06,18.1,18.13,18.16,18.2,18.22,18.25,18.27,18.3,18.3,18.32,18.33,18.35,18.34,18.36,18.38,18.37,18.4,18.38,18.4,18.42,18.4,18.42,18.4,18.43,18.4,18.42,18.4];
const msBrownSd = [0.03,0.03,0.03,0.03,0.03,0.03,0.03,0.03,0.04,0.04,0.04,0.04,0.05,0.05,0.05,0.05,0.05,0.05,0.05,0.05,0.05,0.05,0.05,0.05,0.05,0.05,0.05,0.05,0.05,0.05,0.05,0.05,0.05,0.05,0.05,0.05,0.05,0.05,0.05,0.05,0.05];
const msPink = [15.0,15.85,16.55,16.95,17.2,17.4,17.55,17.65,17.75,17.82,17.88,17.95,18.0,18.03,18.07,18.1,18.12,18.15,18.18,18.2,18.22,18.25,18.25,18.27,18.28,18.3,18.3,18.32,18.32,18.33,18.35,18.33,18.35,18.36,18.35,18.36,18.33,18.38,18.36,18.35,18.38];
const msPinkSd = [0.03,0.03,0.03,0.03,0.03,0.03,0.03,0.04,0.05,0.06,0.06,0.08,0.08,0.08,0.08,0.08,0.08,0.08,0.08,0.08,0.08,0.08,0.08,0.08,0.08,0.08,0.08,0.08,0.08,0.08,0.08,0.08,0.08,0.08,0.08,0.08,0.08,0.08,0.08,0.08,0.08];

const COLORS = {
  k: "#000000", blue: "#1f77b4", orange: "#ff7f0e", green: "#2ca02c",
  red: "#d62728", purple: "#9467bd", brown: "#8c564b", pink: "#e377c2",
};

type Series = { c: string; v: number[]; sd: number[] };
type Row = { label: string; ymin: number; ymax: number; ticks: number[]; cols: Series[][] };

const ROWS: Row[] = [
  { label: "MVImgNet2 / PSNR ↑", ymin: 20, ymax: 24.2, ticks: [20, 21, 22, 23, 24], cols: [
    [{ c: COLORS.k, v: mvK, sd: mvKsd }],
    [{ c: COLORS.blue, v: mvBlue, sd: mvBlueSd }, { c: COLORS.orange, v: mvOrange, sd: mvOrangeSd }, { c: COLORS.green, v: mvGreen, sd: mvGreenSd }, { c: COLORS.red, v: mvRed, sd: mvRedSd }],
    [{ c: COLORS.purple, v: mvPurple, sd: mvPurpleSd }, { c: COLORS.brown, v: mvBrown, sd: mvBrownSd }, { c: COLORS.pink, v: mvPink, sd: mvPinkSd }],
  ] },
  { label: "RealEstate10K / PSNR ↑", ymin: 20, ymax: 26.82, ticks: [20, 21, 22, 23, 24, 25, 26], cols: [
    [{ c: COLORS.k, v: reK, sd: reKsd }],
    [{ c: COLORS.blue, v: reBlue, sd: reBlueSd }, { c: COLORS.orange, v: reOrange, sd: reOrangeSd }, { c: COLORS.green, v: reGreen, sd: reGreenSd }, { c: COLORS.red, v: reRed, sd: reRedSd }],
    [{ c: COLORS.purple, v: rePurple, sd: rePurpleSd }, { c: COLORS.brown, v: reBrown, sd: reBrownSd }, { c: COLORS.pink, v: rePink, sd: rePinkSd }],
  ] },
  { label: "SpatialVidHQ / PSNR ↑", ymin: 17, ymax: 19.5, ticks: [17, 18, 19], cols: [
    [{ c: COLORS.k, v: svK, sd: svKsd }],
    [{ c: COLORS.blue, v: svBlue, sd: svBlueSd }, { c: COLORS.orange, v: svOrange, sd: svOrangeSd }, { c: COLORS.green, v: svGreen, sd: svGreenSd }, { c: COLORS.red, v: svRed, sd: svRedSd }],
    [{ c: COLORS.purple, v: svPurple, sd: svPurpleSd }, { c: COLORS.brown, v: svBrown, sd: svBrownSd }, { c: COLORS.pink, v: svPink, sd: svPinkSd }],
  ] },
  { label: "CO3D / PSNR ↑", ymin: 18, ymax: 21.81, ticks: [18, 19, 20, 21], cols: [
    [{ c: COLORS.k, v: coK, sd: coKsd }],
    [{ c: COLORS.blue, v: coBlue, sd: coBlueSd }, { c: COLORS.orange, v: coOrange, sd: coOrangeSd }, { c: COLORS.green, v: coGreen, sd: coGreenSd }, { c: COLORS.red, v: coRed, sd: coRedSd }],
    [{ c: COLORS.purple, v: coPurple, sd: coPurpleSd }, { c: COLORS.brown, v: coBrown, sd: coBrownSd }, { c: COLORS.pink, v: coPink, sd: coPinkSd }],
  ] },
  { label: "WildRGBD / PSNR ↑", ymin: 14, ymax: 18.19, ticks: [14, 15, 16, 17, 18], cols: [
    [{ c: COLORS.k, v: wrK, sd: wrKsd }],
    [{ c: COLORS.blue, v: wrBlue, sd: wrBlueSd }, { c: COLORS.orange, v: wrOrange, sd: wrOrangeSd }, { c: COLORS.green, v: wrGreen, sd: wrGreenSd }, { c: COLORS.red, v: wrRed, sd: wrRedSd }],
    [{ c: COLORS.purple, v: wrPurple, sd: wrPurpleSd }, { c: COLORS.brown, v: wrBrown, sd: wrBrownSd }, { c: COLORS.pink, v: wrPink, sd: wrPinkSd }],
  ] },
  { label: "MegaSynth / PSNR ↑", ymin: 16, ymax: 18.6, ticks: [16, 17, 18], cols: [
    [{ c: COLORS.k, v: msK, sd: msKsd }],
    [{ c: COLORS.blue, v: msBlue, sd: msBlueSd }, { c: COLORS.orange, v: msOrange, sd: msOrangeSd }, { c: COLORS.green, v: msGreen, sd: msGreenSd }, { c: COLORS.red, v: msRed, sd: msRedSd }],
    [{ c: COLORS.purple, v: msPurple, sd: msPurpleSd }, { c: COLORS.brown, v: msBrown, sd: msBrownSd }, { c: COLORS.pink, v: msPink, sd: msPinkSd }],
  ] },
];

// layout
const ROW_TOP = [7.3, 198.3, 390, 581, 772.7, 964];
const ROW_BOT = [169, 360, 551, 742.3, 933.7, 1125];
const ROW_SHIFT = [0, 0, 0, 0, 0, -3];
const COL_LEFT = [49.5, 294.7, 539.7];
const COL_W = 191.8;

const FONT = "DejaVu Sans, Liberation Sans, sans-serif";

function Panel({ row, r, c }: { row: Row; r: number; c: number }) {
  const left = COL_LEFT[c] + ROW_SHIFT[r];
  const right = left + COL_W;
  const top = ROW_TOP[r];
  const bottom = ROW_BOT[r];
  const x = d3.scaleLinear().domain([0, 320]).range([left, right]);
  const y = d3.scaleLinear().domain([row.ymin, row.ymax]).range([bottom, top]);
  const series = row.cols[c];
  const id = `clip-${r}-${c}`;
  const line = d3.line<number>().x((_, i) => x(ITER[i])).y((d) => y(d));
  const area = (s: Series) =>
    d3.area<number>()
      .x((_, i) => x(ITER[i]))
      .y0((d, i) => y(d - (s.sd[i] ?? 0)))
      .y1((d, i) => y(d + (s.sd[i] ?? 0)))(s.v) || "";
  const isBlack = c === 0;
  return (
    <g>
      <defs>
        <clipPath id={id}>
          <rect x={left} y={top} width={right - left} height={bottom - top} />
        </clipPath>
      </defs>
      {row.ticks.map((t) => (
        <line key={t} x1={left} x2={right} y1={y(t)} y2={y(t)} stroke="#b0b0b0" strokeWidth={0.8} />
      ))}
      {X_TICKS.map((t) => (
        <line key={"v" + t} x1={x(t)} x2={x(t)} y1={top} y2={bottom} stroke="#b0b0b0" strokeWidth={0.8} />
      ))}
      <g clipPath={`url(#${id})`}>
        {series.map((s, i) => (
          <path key={"a" + i} d={area(s)} fill={s.c} fillOpacity={isBlack ? 0.18 : 0.2} stroke="none" />
        ))}
        {series.map((s, i) => (
          <path key={"l" + i} d={line(s.v) || ""} fill="none" stroke={s.c} strokeWidth={1.3} strokeLinejoin="round" />
        ))}
      </g>
      {/* spines */}
      <line x1={left} x2={left} y1={top} y2={bottom} stroke="#000" strokeWidth={1.1} />
      <line x1={left} x2={right} y1={bottom} y2={bottom} stroke="#000" strokeWidth={1.1} />
      {/* y ticks */}
      {row.ticks.map((t) => (
        <g key={"yt" + t}>
          <line x1={left - 3.5} x2={left} y1={y(t)} y2={y(t)} stroke="#000" strokeWidth={0.8} />
          <text x={left - 6} y={y(t)} dy="0.35em" textAnchor="end" fontSize={10} fill="#222" fontFamily={FONT}>
            {t}
          </text>
        </g>
      ))}
      {/* x ticks */}
      {X_TICKS.map((t, i) => (
        <g key={"xt" + t}>
          <line x1={x(t)} x2={x(t)} y1={bottom} y2={bottom + 3.5} stroke="#000" strokeWidth={0.8} />
          <text x={x(t)} y={bottom + 15} textAnchor="middle" fontSize={10} fill="#222" fontFamily={FONT}>
            {X_TICK_LABELS[i]}
          </text>
        </g>
      ))}
      {c === 0 && (
        <text
          transform={`translate(${left - 31},${(top + bottom) / 2}) rotate(-90)`}
          textAnchor="middle"
          fontSize={10.5}
          fill="#333"
          fontFamily={FONT}
        >
          {row.label}
        </text>
      )}
      {r === ROWS.length - 1 && (
        <text x={(left + right) / 2} y={1159} textAnchor="middle" fontSize={11} fill="#333" fontFamily={FONT}>
          Iteration
        </text>
      )}
    </g>
  );
}

export default function App() {
  return (
    <svg width={751} height={1167} style={{ position: "absolute", left: 0, top: 0, background: "#fff" }}>
      <rect x={0} y={0} width={751} height={1167} fill="#fff" />
      {ROWS.map((row, r) => row.cols.map((_, c) => <Panel key={`${r}-${c}`} row={row} r={r} c={c} />))}
    </svg>
  );
}
